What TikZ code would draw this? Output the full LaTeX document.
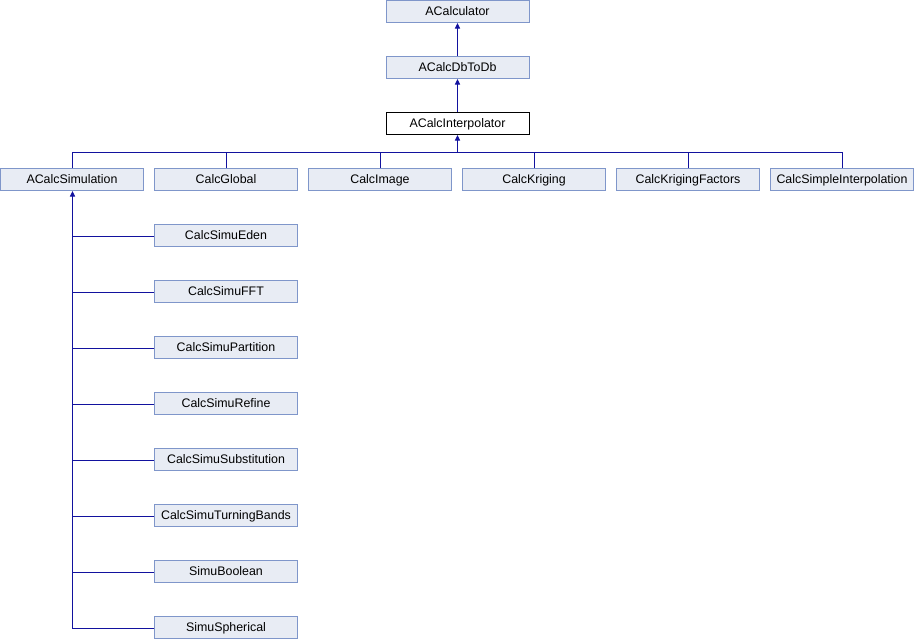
\documentclass[tikz,border=0pt]{standalone}
\usepackage{fontspec}
\setmainfont{Liberation Sans}
\usetikzlibrary{arrows.meta}
\definecolor{boxfill}{HTML}{E8ECF4}
\definecolor{boxline}{HTML}{7F96CA}
\definecolor{edge}{HTML}{12129E}
\tikzset{
  cls/.style={draw=boxline, fill=boxfill, line width=1pt, minimum width=143pt, minimum height=22pt, inner sep=0pt, text height=8.9pt, text depth=1.3pt, font=\fontsize{12.4}{13}\selectfont},
  cur/.style={cls, draw=black, fill=white},
  inh/.style={draw=edge, line width=1pt, -{Triangle[width=5pt,length=5.5pt]}},
  lnk/.style={draw=edge, line width=1pt},
}
\begin{document}
\begin{tikzpicture}[x=1pt,y=-1pt]
\useasboundingbox (0,0) rectangle (914,640);
\node[cls] (calc) at (457.5,11.5) {ACalculator};
\node[cls] (dbtodb) at (457.5,67.5) {ACalcDbToDb};
\node[cur] (interp) at (457.5,123.5) {ACalcInterpolator};
\node[cls] (sim) at (72,179.5) {ACalcSimulation};
\node[cls] (glob) at (226,179.5) {CalcGlobal};
\node[cls] (img) at (380,179.5) {CalcImage};
\node[cls] (krig) at (534,179.5) {CalcKriging};
\node[cls] (krigf) at (688,179.5) {CalcKrigingFactors};
\node[cls] (simple) at (842,179.5) {CalcSimpleInterpolation};
\node[cls] (eden) at (226,235.5) {CalcSimuEden};
\node[cls] (fft) at (226,291.5) {CalcSimuFFT};
\node[cls] (part) at (226,347.5) {CalcSimuPartition};
\node[cls] (refine) at (226,403.5) {CalcSimuRefine};
\node[cls] (subst) at (226,459.5) {CalcSimuSubstitution};
\node[cls] (turn) at (226,515.5) {CalcSimuTurningBands};
\node[cls] (bool) at (226,571.5) {SimuBoolean};
\node[cls] (sph) at (226,627.5) {SimuSpherical};
% top chain
\draw[inh] (dbtodb.north) -- (calc.south);
\draw[inh] (interp.north) -- (dbtodb.south);
% bus
\coordinate (bus) at (457.5,152.5);
\draw[inh] (bus) -- (interp.south);
\foreach \n in {sim,simple} \draw[lnk] ([xshift=0.5pt]\n.north) |- (bus);
\foreach \n in {glob,img,krig,krigf} \draw[lnk] ([xshift=0.5pt]\n.north) -- ([xshift=0.5pt]\n.north |- bus);
% simulation children
\coordinate (simbot) at (72.5,628.5);
\draw[inh] (simbot) -- ([xshift=0.5pt]sim.south);
\foreach \n in {eden,fft,part,refine,subst,turn,bool,sph} \draw[lnk] ([yshift=-1pt]\n.west) -- ([yshift=-1pt]\n.west -| simbot);
\end{tikzpicture}
\end{document}
